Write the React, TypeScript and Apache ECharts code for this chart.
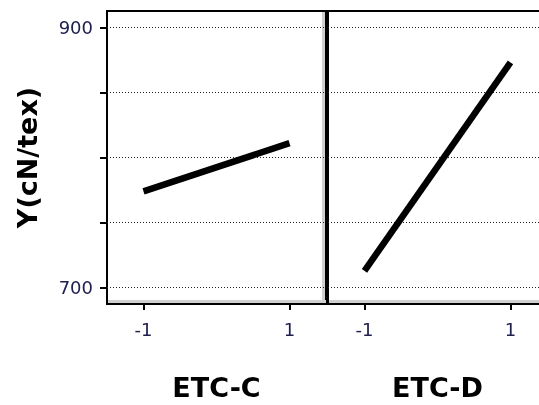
import React, { useEffect, useRef } from "react";
import * as echarts from "echarts";

const panels = ["ETC-C", "ETC-D"];
const xLevels = [-1, 1];
const etcC = [774, 811];
const etcD = [713, 873];
const yTicks = [700, 750, 800, 850, 900];
const yLabels = [700, 900];
const xTicks = [-1, 1];
const yMin = 687.5;
const yMax = 912.5;
const xMin = -1.5;
const xMax = 1.5;

const panelValues = [etcC, etcD];

export default function App() {
  const ref = useRef<HTMLDivElement>(null);
  useEffect(() => {
    if (!ref.current) return;
    const chart = echarts.init(ref.current, undefined, { renderer: "svg" });
    const grids = [
      { left: 107, top: 11, width: 219, height: 293 },
      { left: 328, top: 11, width: 219, height: 293 },
    ].map((g) => ({
      ...g,
      show: true,
      borderColor: "#000",
      borderWidth: 2,
      backgroundColor: "#fff",
      containLabel: false,
      outerBoundsMode: "none",
    }));

    const tickFont = { fontFamily: "DejaVu Sans", fontSize: 18, color: "#202050" };
    const nameFont = { fontFamily: "DejaVu Sans", fontSize: 27, fontWeight: "bold", color: "#000" };

    const xAxis = panels.map((p, i) => ({
      type: "value",
      gridIndex: i,
      min: xMin,
      max: xMax,
      name: p,
      nameLocation: "middle",
      nameGap: 70,
      nameTextStyle: nameFont,
      axisLine: { show: false, onZero: false },
      axisTick: { show: true, customValues: xTicks, length: 6, lineStyle: { color: "#000", width: 2 } },
      axisLabel: { show: true, customValues: xTicks, margin: 16, ...tickFont },
      splitLine: { show: false },
    }));

    const yAxis = panels.map((p, i) => ({
      type: "value",
      gridIndex: i,
      min: yMin,
      max: yMax,
      name: i === 0 ? "Y(cN/tex)" : "",
      nameLocation: "middle",
      nameGap: 66,
      nameRotate: 90,
      nameTextStyle: nameFont,
      axisLine: { show: false, onZero: false },
      axisTick: { show: i === 0, customValues: yTicks, length: 7, lineStyle: { color: "#000", width: 2 } },
      axisLabel: { show: i === 0, customValues: yLabels, margin: 14, ...tickFont },
      splitLine: { show: false },
    }));

    const series = panels.map((p, i) => ({
      type: "line",
      name: p,
      xAxisIndex: i,
      yAxisIndex: i,
      data: xLevels.map((x, k) => [x, panelValues[i][k]]),
      symbol: "none",
      lineStyle: { color: "#000", width: 6.5, cap: "butt" },
      z: 5,
      markLine: {
        silent: true,
        symbol: ["none", "none"],
        label: { show: false },
        lineStyle: { color: "#222", width: 1, type: [1, 2] },
        data: yTicks.map((v) => ({ yAxis: v })),
        z: 1,
      },
    }));

    chart.setOption({
      animation: false,
      grid: grids,
      xAxis,
      yAxis,
      series,
      graphic: [
        { type: "rect", shape: { x: 108, y: 300, width: 218, height: 3 }, style: { fill: "#d0d0d0" }, z: 0 },
        { type: "rect", shape: { x: 322, y: 12, width: 3, height: 291 }, style: { fill: "#d0d0d0" }, z: 0 },
        { type: "rect", shape: { x: 329, y: 300, width: 220, height: 3 }, style: { fill: "#d0d0d0" }, z: 0 },
      ],
    });
    return () => chart.dispose();
  }, []);
  return <div ref={ref} style={{ position: "fixed", left: 0, top: 0, width: 539, height: 405 }} />;
}
